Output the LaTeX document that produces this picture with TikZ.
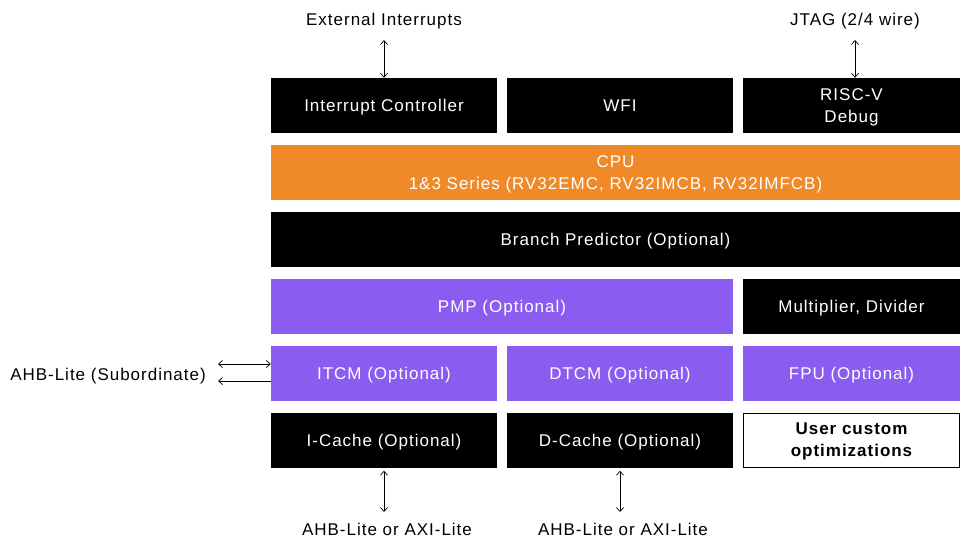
\documentclass[tikz,border=0pt]{standalone}
\usepackage{fontspec}
\setmainfont{Liberation Sans}[LetterSpace=5.8]
\usetikzlibrary{arrows.meta}
\definecolor{cpuorange}{HTML}{F08A28}
\definecolor{optpurple}{HTML}{8B5CF0}
\tikzset{
  blk/.style={draw=none, minimum height=55pt, inner sep=0pt, align=center, text depth=0pt, font=\fontsize{17}{22}\selectfont, text=white},
  blackbox/.style={blk, fill=black},
  orangebox/.style={blk, fill=cpuorange},
  purplebox/.style={blk, fill=optpurple},
  whitebox/.style={blk, fill=white, draw=black, line width=0.8pt, text=black, font=\fontsize{17}{22}\selectfont\bfseries, minimum height=54pt},
  lbl/.style={inner sep=0pt, align=center, text depth=0pt, font=\fontsize{17}{22}\selectfont},
  conn/.style={line width=0.7pt, {Straight Barb[length=4pt,width=7pt]}-{Straight Barb[length=4pt,width=7pt]}},
  connl/.style={line width=0.7pt, {Straight Barb[length=4pt,width=7pt]}-}
}
\begin{document}
\begin{tikzpicture}[x=1pt,y=-1pt]
\useasboundingbox (0,0) rectangle (960,541);
% row 1
\node[blackbox, minimum width=226pt] (ic) at (384,105.5) {Interrupt Controller};
\node[blackbox, minimum width=226pt] (wfi) at (620,105.5) {WFI};
\node[blackbox, minimum width=217pt] (dbg) at (851.5,105.5) {RISC-V\\Debug};
% row 2
\node[orangebox, minimum width=689pt] (cpu) at (615.5,172.5) {CPU\\1\&3 Series (RV32EMC, RV32IMCB, RV32IMFCB)};
% row 3
\node[blackbox, minimum width=689pt] (bp) at (615.5,239.5) {Branch Predictor (Optional)};
% row 4
\node[purplebox, minimum width=462pt] (pmp) at (502,306.5) {PMP (Optional)};
\node[blackbox, minimum width=217pt] (mul) at (851.5,306.5) {Multiplier, Divider};
% row 5
\node[purplebox, minimum width=226pt] (itcm) at (384,373.5) {ITCM (Optional)};
\node[purplebox, minimum width=226pt] (dtcm) at (620,373.5) {DTCM (Optional)};
\node[purplebox, minimum width=217pt] (fpu) at (851.5,373.5) {FPU (Optional)};
% row 6
\node[blackbox, minimum width=226pt] (icache) at (384,440) {I-Cache (Optional)};
\node[blackbox, minimum width=226pt] (dcache) at (620,440) {D-Cache (Optional)};
\node[whitebox, minimum width=216pt] (user) at (851.5,440) {User custom\\optimizations};
% labels
\node[lbl] (extint) at (384,19) {External Interrupts};
\node[lbl] (jtag) at (855,19) {JTAG (2/4 wire)};
\node[lbl] (ahbs) at (108,374) {AHB-Lite (Subordinate)};
\node[lbl] (ahbi) at (387,529) {AHB-Lite or AXI-Lite};
\node[lbl] (ahbd) at (623,529) {AHB-Lite or AXI-Lite};
% connectors
\coordinate (e1) at (384,40);
\draw[conn] (e1) -- (ic.north);
\coordinate (j1) at (855,40);
\draw[conn] (j1) -- (dbg.north -| j1);
\coordinate (a1) at (218,364);
\coordinate (a2) at (218,381);
\draw[conn] (a1) -- (itcm.west |- a1);
\draw[connl] (a2) -- (itcm.west |- a2);
\coordinate (b1) at (384,512);
\draw[conn] (icache.south) ++(0,3) -- (b1);
\coordinate (b2) at (620,512);
\draw[conn] (dcache.south) ++(0,3) -- (b2);
\end{tikzpicture}
\end{document}
